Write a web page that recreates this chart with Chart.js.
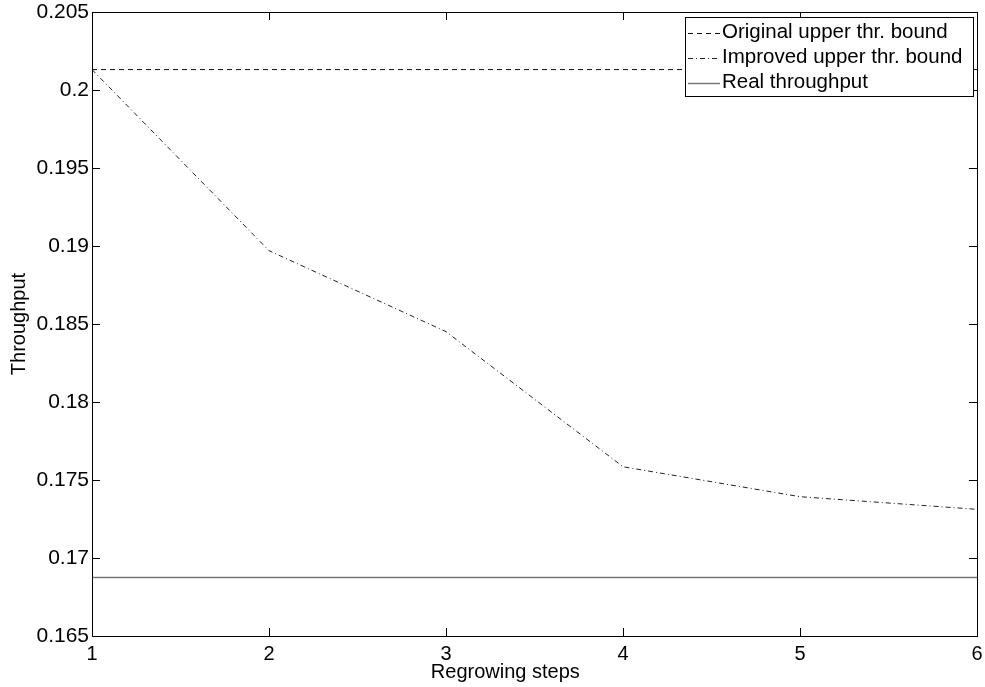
<!DOCTYPE html>
<html>
<head>
<meta charset="utf-8">
<script src="https://cdn.jsdelivr.net/npm/chart.js@4"></script>
<style>
  body { margin: 0; background: #fff; }
  canvas { display: block; }
</style>
</head>
<body>
<canvas id="myChart" width="985" height="687"></canvas>
<script>
// Chart data
const steps = [1, 2, 3, 4, 5, 6];
const originalBound = [0.20131, 0.20131, 0.20131, 0.20131, 0.20131, 0.20131];
const improvedBound = [0.20131, 0.1897, 0.18451, 0.17585, 0.17393, 0.17312];
const realThroughput = [0.16875, 0.16875, 0.16875, 0.16875, 0.16875, 0.16875];
const yTicks = [0.165, 0.17, 0.175, 0.18, 0.185, 0.19, 0.195, 0.2, 0.205];
const xTitle = 'Regrowing steps';
const yTitle = 'Throughput';

const FONT = '"Liberation Sans", Arial, Helvetica, sans-serif';

function points(ys) {
  return steps.map((x, i) => ({ x: x, y: ys[i] }));
}

// inside ticks, frame, axis titles and legend box (MATLAB look)
const matlabFrame = {
  id: 'matlabFrame',
  afterDraw(chart) {
    const ctx = chart.ctx;
    const a = chart.chartArea;
    const xs = chart.scales.x;
    const ys = chart.scales.y;
    const tl = 8;
    ctx.save();
    ctx.strokeStyle = '#000';
    ctx.lineWidth = 1;
    ctx.beginPath();
    xs.ticks.forEach(t => {
      const px = Math.round(xs.getPixelForValue(t.value)) + 0.5;
      ctx.moveTo(px, a.bottom); ctx.lineTo(px, a.bottom - tl);
      ctx.moveTo(px, a.top); ctx.lineTo(px, a.top + tl);
    });
    ys.ticks.forEach(t => {
      const py = Math.round(ys.getPixelForValue(t.value)) + 0.5;
      ctx.moveTo(a.left, py); ctx.lineTo(a.left + tl, py);
      ctx.moveTo(a.right, py); ctx.lineTo(a.right - tl, py);
    });
    ctx.stroke();
    ctx.strokeRect(Math.round(a.left) + 0.5, Math.round(a.top) + 0.5,
      Math.round(a.right - a.left), Math.round(a.bottom - a.top));

    // axis titles
    ctx.fillStyle = '#000';
    ctx.font = '20px ' + FONT;
    ctx.textAlign = 'center';
    ctx.textBaseline = 'middle';
    ctx.fillText(xTitle, a.left + (a.right - a.left) * 0.467, a.bottom + 36);
    ctx.save();
    ctx.translate(19, (a.top + a.bottom) / 2);
    ctx.rotate(-Math.PI / 2);
    ctx.fillText(yTitle, 0, 0);
    ctx.restore();

    // legend
    ctx.font = '20.5px ' + FONT;
    const bx = a.right - 292, by = a.top + 5, bw = 288, bh = 79;
    ctx.fillStyle = '#fff';
    ctx.fillRect(bx, by, bw, bh);
    ctx.strokeRect(bx + 0.5, by + 0.5, bw, bh);
    chart.data.datasets.forEach((ds, i) => {
      const cy = by + 15.5 + i * 25;
      ctx.save();
      ctx.strokeStyle = ds.borderColor;
      ctx.lineWidth = ds.borderWidth;
      ctx.setLineDash(ds.borderDash || []);
      ctx.beginPath();
      ctx.moveTo(bx + 3, Math.round(cy) + 0.5);
      ctx.lineTo(bx + 35, Math.round(cy) + 0.5);
      ctx.stroke();
      ctx.restore();
      ctx.fillStyle = '#000';
      ctx.textAlign = 'left';
      ctx.textBaseline = 'middle';
      ctx.fillText(ds.label, bx + 37, cy);
    });
    ctx.restore();
  }
};

const data = {
  datasets: [{
    label: 'Original upper thr. bound',
    data: points(originalBound),
    borderColor: '#111',
    borderWidth: 1,
    borderDash: [5, 4]
  }, {
    label: 'Improved upper thr. bound',
    data: points(improvedBound),
    borderColor: '#222',
    borderWidth: 1,
    borderDash: [5, 3, 1, 3]
  }, {
    label: 'Real throughput',
    data: points(realThroughput),
    borderColor: '#777',
    borderWidth: 1.5
  }]
};

const options = {
  responsive: false,
  animation: false,
  layout: { padding: { top: 12, right: 8, left: 0, bottom: 0 } },
  elements: { point: { radius: 0 }, line: { tension: 0 } },
  plugins: { legend: { display: false }, tooltip: { enabled: false } },
  scales: {
    x: {
      type: 'linear',
      min: 1,
      max: 6,
      afterBuildTicks: s => { s.ticks = steps.map(v => ({ value: v })); },
      afterFit: s => { s.height = 51; s.paddingLeft = 0; s.paddingRight = 0; },
      grid: { display: false, drawTicks: false },
      border: { display: false },
      ticks: {
        padding: 6,
        color: '#000',
        font: { size: 20, family: FONT },
        maxRotation: 0
      }
    },
    y: {
      type: 'linear',
      min: 0.165,
      max: 0.205,
      afterBuildTicks: s => { s.ticks = yTicks.map(v => ({ value: v })); },
      afterFit: s => { s.width = 92; s.paddingTop = 0; s.paddingBottom = 0; },
      grid: { display: false, drawTicks: false },
      border: { display: false },
      ticks: {
        padding: 3,
        color: '#000',
        font: { size: 21, family: FONT },
        callback: v => String(Number(v.toFixed(3)))
      }
    }
  }
};

const ctx = document.getElementById('myChart').getContext('2d');
const myChart = new Chart(ctx, {
  type: 'line',
  data: data,
  options: options,
  plugins: [matlabFrame]
});
</script>
</body>
</html>
